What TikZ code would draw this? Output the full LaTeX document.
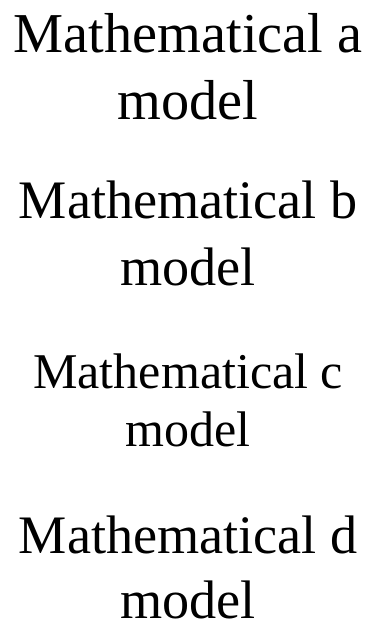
\documentclass[tikz,border=0pt]{standalone}
\usepackage{fontspec}
\setmainfont{Liberation Serif}
\usetikzlibrary{arrows.meta}
\begin{document}
\begin{tikzpicture}[x=0.5pt,y=0.5pt]
\node[font=\rmfamily\fontsize{13.5}{15.9}\selectfont,align=center] (a) at (0,0) {Mathematical a\\model};
\node[font=\fontsize{13}{16}\selectfont,align=center] (b) at (0,-80) {Mathematical b\\model};
\node[font=\large,align=center] (c) at (0,-160) {Mathematical c\\model};
\node[align=center,scale=1.3] (d) at (0,-240) {Mathematical d\\model};
\end{tikzpicture}
\end{document}
